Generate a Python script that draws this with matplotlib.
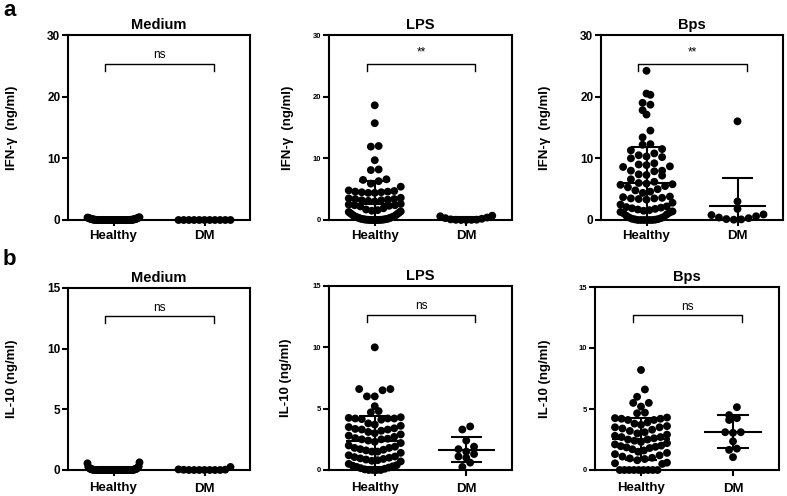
import numpy as np
import matplotlib
matplotlib.use("Agg")
import matplotlib.pyplot as plt

plt.rcParams['font.family'] = ['Liberation Sans', 'DejaVu Sans']

groups = ["Healthy", "DM"]
stimuli = ["Medium", "LPS", "Bps"]

# ---------------- IFN-gamma (ng/ml) ----------------
ifn_medium_healthy = [0.45, 0.40, 0.35, 0.30, 0.28, 0.25, 0.22, 0.20, 0.18, 0.15, 0.14, 0.12,
                      0.10, 0.10, 0.08, 0.08, 0.06, 0.05, 0.05, 0.04, 0.03, 0.03, 0.02, 0.02,
                      0.02, 0.01, 0.01, 0.01, 0.0, 0.0, 0.0, 0.0, 0.0, 0.0, 0.0, 0.0,
                      0.0, 0.0, 0.0, 0.0, 0.0, 0.0, 0.0, 0.0, 0.0, 0.0, 0.0, 0.0,
                      0.0, 0.0, 0.0, 0.0, 0.0, 0.0, 0.0, 0.0, 0.0, 0.0, 0.0, 0.0,
                      0.0, 0.0, 0.0, 0.0, 0.0, 0.0, 0.0, 0.0, 0.40, 0.35]
ifn_medium_dm = [0.0, 0.0, 0.0, 0.0, 0.0, 0.0, 0.0, 0.0, 0.0, 0.0, 0.0]

ifn_lps_healthy = [18.6, 15.7, 12.0, 11.9, 9.7, 8.2, 8.1, 6.6, 6.5, 6.3, 5.9, 5.4,
                   4.8, 4.7, 4.6, 4.6, 4.5, 4.5, 4.4, 4.4,
                   3.6, 3.5, 3.4, 3.4, 3.3, 3.2, 3.2, 3.1, 3.0,
                   2.6, 2.5, 2.4, 2.4, 2.3, 2.2, 1.9, 1.7, 1.6, 1.5,
                   1.4, 1.3, 1.2, 1.1, 1.0, 0.9, 0.8, 0.7, 0.6, 0.55, 0.5, 0.45, 0.4,
                   0.35, 0.3, 0.25, 0.2, 0.18, 0.15, 0.12, 0.1, 0.08, 0.06, 0.05, 0.04,
                   0.03, 0.02, 0.01, 0.0, 0.0, 0.0, 0.0, 0.0]
ifn_lps_dm = [0.7, 0.6, 0.4, 0.3, 0.2, 0.1, 0.05, 0.03, 0.02, 0.0, 0.0]

ifn_bps_healthy = [24.2, 20.3, 20.5, 18.7, 19.0, 17.8, 17.1, 14.5, 13.4, 12.3, 12.2, 11.5, 11.3,
                   10.8, 10.5, 10.3, 10.2, 10.0,
                   9.2, 9.0, 8.9, 8.7, 8.6,
                   8.0, 8.0, 7.9, 7.4, 7.3, 7.2,
                   6.6, 6.2, 6.0, 5.9, 5.8, 5.7, 5.5, 5.3,
                   5.0, 4.8, 4.6, 4.4,
                   3.8, 3.7, 3.6, 3.5, 3.5, 3.4, 3.3,
                   2.8, 2.5, 2.2, 2.1, 2.0, 1.9, 1.8, 1.7,
                   1.6, 1.5, 1.4, 1.3, 1.2, 1.1, 0.9, 0.7, 0.5,
                   0.4, 0.3, 0.2, 0.15, 0.1, 0.05, 0.0, 0.0, 0.0, 0.0, 0.0, 0.0]
ifn_bps_dm = [16.0, 3.0, 1.8, 0.9, 0.8, 0.6, 0.4, 0.3, 0.15, 0.1, 0.05]

ifn_mean_healthy = [0.1, 2.6, 6.0]
ifn_sd_healthy = [0.15, 3.8, 5.9]
ifn_mean_dm = [0.0, 0.2, 2.2]
ifn_sd_dm = [0.0, 0.25, 4.6]
ifn_sig = ["ns", "**", "**"]

# ---------------- IL-10 (ng/ml) ----------------
il10_medium_healthy = [0.63, 0.55, 0.30, 0.25, 0.20, 0.18, 0.15, 0.12, 0.10, 0.10, 0.08, 0.06,
                       0.05, 0.05, 0.04, 0.03, 0.02, 0.02, 0.01, 0.01, 0.0, 0.0, 0.0, 0.0,
                       0.0, 0.0, 0.0, 0.0, 0.0, 0.0, 0.0, 0.0, 0.0, 0.0, 0.0, 0.0,
                       0.0, 0.0, 0.0, 0.0, 0.0, 0.0, 0.0, 0.0, 0.0, 0.0, 0.0, 0.0,
                       0.0, 0.0, 0.0, 0.0, 0.0, 0.0, 0.0, 0.0, 0.0, 0.0, 0.0, 0.0,
                       0.0, 0.0, 0.0, 0.0, 0.0, 0.0, 0.0, 0.0]
il10_medium_dm = [0.25, 0.05, 0.03, 0.02, 0.0, 0.0, 0.0, 0.0, 0.0, 0.0, 0.0]

il10_lps_healthy = [10.0, 6.6, 6.6, 6.5, 6.0, 6.0, 5.2, 4.8, 4.7,
                    4.3, 4.25, 4.2, 4.2, 4.2, 4.15, 4.1,
                    3.8, 3.7, 3.6, 3.5, 3.4, 3.35, 3.3, 3.3, 3.2, 3.1, 3.0,
                    2.9, 2.8, 2.7, 2.6, 2.55, 2.5, 2.5, 2.4, 2.3, 2.2,
                    2.0, 1.9, 1.8, 1.8, 1.7, 1.65, 1.6, 1.5, 1.5, 1.4,
                    1.2, 1.1, 1.05, 1.0, 0.95, 0.9, 0.85, 0.8, 0.75, 0.7,
                    0.5, 0.4, 0.35, 0.3, 0.25, 0.2, 0.15, 0.1, 0.05, 0.0, 0.0, 0.0, 0.0]
il10_lps_dm = [3.55, 3.3, 2.4, 1.9, 1.7, 1.5, 1.3, 1.1, 1.0, 0.6, 0.25]

il10_bps_healthy = [8.2, 6.6, 6.0, 5.5, 5.5, 5.2, 4.7, 4.65,
                    4.3, 4.25, 4.2, 4.2, 4.1, 4.1,
                    3.9, 3.8, 3.7, 3.6, 3.5, 3.5, 3.4, 3.3, 3.2, 3.1, 3.0,
                    2.9, 2.8, 2.7, 2.7, 2.6, 2.5, 2.5, 2.4, 2.3, 2.2,
                    2.1, 2.0, 1.95, 1.9, 1.85, 1.8, 1.7, 1.6, 1.5,
                    1.4, 1.3, 1.2, 1.1, 1.0, 0.95, 0.9, 0.8,
                    0.6, 0.55, 0.5, 0.0, 0.0, 0.0, 0.0, 0.0, 0.0, 0.0, 0.0, 0.0]
il10_bps_dm = [5.15, 4.5, 4.25, 4.1, 3.1, 3.1, 3.05, 2.35, 1.75, 1.65, 1.05]

il10_mean_healthy = [0.08, 2.33, 2.55]
il10_sd_healthy = [0.15, 2.05, 1.74]
il10_mean_dm = [0.03, 1.66, 3.12]
il10_sd_dm = [0.08, 1.0, 1.35]
il10_sig = ["ns", "ns", "ns"]

ifn_yticks = [0, 10, 20, 30]
il10_yticks = [0, 5, 10, 15]

# ---------------- layout (pixels) ----------------
W, H = 787, 496
fig = plt.figure(figsize=(W / 100, H / 100), dpi=100)

boxes_a = [(68, 35, 250, 220), (329, 35, 512, 220), (601, 35, 783, 220)]
boxes_b = [(68, 288, 250, 470), (329, 286, 512, 470), (595, 287, 779, 470)]
tick_sizes_a = [8.5, 5.5, 8.5]
tick_sizes_b = [8.5, 5.5, 5.5]
ylab_off_a = [50, 35, 50]
ylab_off_b = [50, 37, 44]


def make_ax(box):
    l, t, r, b = box
    return fig.add_axes([l / W, (H - b) / H, (r - l) / W, (b - t) / H])


def swarm_x(vals, ax, xc, row_px=9.0, dot_px=7.8, half_px=26.0):
    vals = np.asarray(vals, dtype=float)
    ylo, yhi = ax.get_ylim()
    xlo, xhi = ax.get_xlim()
    ppy = ax.bbox.height / (yhi - ylo)
    ppx = ax.bbox.width / (xhi - xlo)
    h = row_px / ppy
    bins = np.floor(vals / h + 1e-9)
    xs = np.zeros(len(vals))
    for bval in np.unique(bins):
        idx = np.where(bins == bval)[0]
        idx = idx[np.argsort(vals[idx], kind="stable")]
        n = len(idx)
        if n == 1:
            continue
        s = min(dot_px, 2 * half_px / (n - 1))
        offs = (np.arange(n) - (n - 1) / 2.0) * s
        order = sorted(range(n), key=lambda i: (abs(offs[i]), offs[i]))
        for k, i in enumerate(idx):
            xs[i] = offs[order[k]]
    return xc + xs / ppx


def draw_panel(ax, title, hv, dv, mh, sh, md, sd, ymax, yticks, sig, ylabel,
               tsize, yoff):
    ax.set_xlim(-0.5, 1.5)
    ax.set_ylim(0, ymax)
    for sp in ax.spines.values():
        sp.set_linewidth(1.5)
    for xi, vals in enumerate([hv, dv]):
        xs = swarm_x(vals, ax, xi)
        ax.scatter(xs, vals, s=32, c="black", edgecolors="none", zorder=3,
                   clip_on=False)
    for xi, (m, s) in enumerate([(mh, sh), (md, sd)]):
        ax.hlines(m, xi - 0.31, xi + 0.31, color="black", lw=1.5, zorder=4)
        ax.vlines(xi, m - s, m + s, color="black", lw=1.5, zorder=4)
        ax.hlines([m - s, m + s], xi - 0.17, xi + 0.17, color="black", lw=1.5,
                  zorder=4)
    top = ymax * 0.845
    tip = ymax * 0.807
    ax.plot([-0.09, -0.09, 1.1, 1.1], [tip, top, top, tip], color="black",
            lw=1.0, zorder=2)
    ty = ymax * (0.89 if sig == "ns" else 0.905)
    ax.text(0.505, ty, sig, ha="center", va="center", fontsize=8.5)
    ax.set_xticks([0, 1])
    ax.set_xticklabels(groups, fontsize=9.5, fontweight="bold")
    ax.set_yticks(yticks)
    ax.set_yticklabels([str(v) for v in yticks], fontsize=tsize,
                       fontweight="bold")
    ax.tick_params(axis="both", direction="out", length=4, width=1.5)
    ax.tick_params(axis="y", pad=1.5)
    ax.set_title(title, fontsize=10.5, fontweight="bold", pad=4)
    ax.set_ylabel(ylabel, fontsize=9.5, fontweight="bold")
    ax.yaxis.set_label_coords(-yoff / ax.bbox.width, 0.5)


ifn_h = [ifn_medium_healthy, ifn_lps_healthy, ifn_bps_healthy]
ifn_d = [ifn_medium_dm, ifn_lps_dm, ifn_bps_dm]
il_h = [il10_medium_healthy, il10_lps_healthy, il10_bps_healthy]
il_d = [il10_medium_dm, il10_lps_dm, il10_bps_dm]

for i in range(3):
    ax = make_ax(boxes_a[i])
    draw_panel(ax, stimuli[i], ifn_h[i], ifn_d[i], ifn_mean_healthy[i],
               ifn_sd_healthy[i], ifn_mean_dm[i], ifn_sd_dm[i], 30,
               ifn_yticks, ifn_sig[i], "IFN-\u03b3  (ng/ml)", tick_sizes_a[i],
               ylab_off_a[i])
    ax.tick_params(axis="x", pad=3)
for i in range(3):
    ax = make_ax(boxes_b[i])
    draw_panel(ax, stimuli[i], il_h[i], il_d[i], il10_mean_healthy[i],
               il10_sd_healthy[i], il10_mean_dm[i], il10_sd_dm[i], 15,
               il10_yticks, il10_sig[i], "IL-10 (ng/ml)", tick_sizes_b[i],
               ylab_off_b[i])
    ax.tick_params(axis="x", pad=5)

fig.text(3 / W, 1 - 16.5 / H, "a", fontsize=16, fontweight="bold",
         va="baseline", ha="left")
fig.text(3 / W, 1 - 265 / H, "b", fontsize=16, fontweight="bold",
         va="baseline", ha="left")

fig.savefig("out.png", dpi=100)
